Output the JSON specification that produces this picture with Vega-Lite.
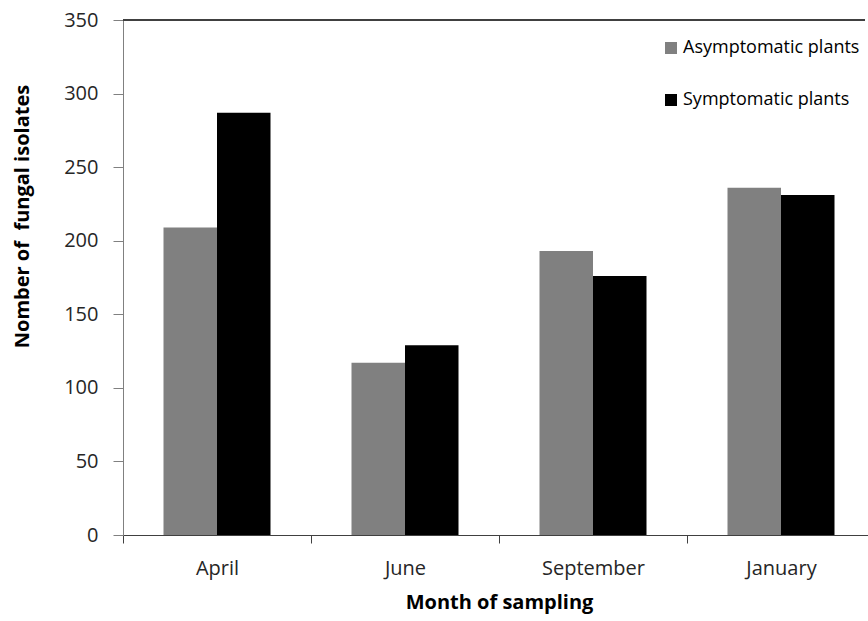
{
  "$schema": "https://vega.github.io/schema/vega-lite/v6.json",
  "autosize": "none",
  "width": 742,
  "height": 515,
  "padding": {"left": 123, "top": 20, "right": 3, "bottom": 86},
  "background": "white",
  "config": {
    "view": {"stroke": null},
    "font": "Open Sans",
    "axis": {"labelFont": "Open Sans", "titleFont": "Open Sans", "grid": false}
  },
  "data": {
    "values": [
      {"month": "April", "series": "Asymptomatic plants", "count": 209},
      {"month": "April", "series": "Symptomatic plants", "count": 287},
      {"month": "June", "series": "Asymptomatic plants", "count": 117},
      {"month": "June", "series": "Symptomatic plants", "count": 129},
      {"month": "September", "series": "Asymptomatic plants", "count": 193},
      {"month": "September", "series": "Symptomatic plants", "count": 176},
      {"month": "January", "series": "Asymptomatic plants", "count": 236},
      {"month": "January", "series": "Symptomatic plants", "count": 231}
    ]
  },
  "layer": [
    {
      "mark": {"type": "bar"},
      "encoding": {
        "x": {
          "field": "month",
          "type": "nominal",
          "sort": ["April", "June", "September", "January"],
          "scale": {"range": [0, 752], "paddingInner": 0, "paddingOuter": 0},
          "axis": {
            "title": "Month of sampling",
            "titleFontSize": 20,
            "titleFontWeight": "bold",
            "titleColor": "#000000",
            "titlePadding": 14,
            "labelAngle": 0,
            "labelFontSize": 20,
            "labelColor": "#262626",
            "labelPadding": 15,
            "tickBand": "extent",
            "tickSize": 8,
            "tickColor": "#404040",
            "domainColor": "#404040"
          }
        },
        "xOffset": {
          "field": "series",
          "type": "nominal",
          "scale": {"paddingInner": 0, "paddingOuter": 0.757}
        },
        "y": {
          "field": "count",
          "type": "quantitative",
          "scale": {"domain": [0, 350], "nice": false},
          "axis": {
            "title": "Nomber of\u00a0 fungal isolates",
            "titleFontSize": 20,
            "titleFontWeight": "bold",
            "titleColor": "#000000",
            "titleX": -91,
            "titleY": 196,
            "values": [0, 50, 100, 150, 200, 250, 300, 350],
            "labelFontSize": 20,
            "labelColor": "#262626",
            "labelPadding": 15,
            "tickSize": 10,
            "tickColor": "#808080",
            "domainColor": "#808080"
          }
        },
        "color": {
          "field": "series",
          "type": "nominal",
          "scale": {"domain": ["Asymptomatic plants", "Symptomatic plants"], "range": ["#808080", "#000000"]},
          "legend": {
            "title": null,
            "orient": "none",
            "legendX": 539,
            "legendY": 19,
            "symbolType": "square",
            "symbolSize": 144,
            "symbolStrokeWidth": 0,
            "labelFontSize": 18,
            "labelLimit": 400,
            "labelColor": "#000000",
            "labelOffset": 3,
            "rowPadding": 34
          }
        }
      }
    },
    {
      "mark": {"type": "rule", "color": "#404040", "strokeWidth": 1},
      "encoding": {"y": {"datum": 350, "type": "quantitative"}}
    }
  ]
}
